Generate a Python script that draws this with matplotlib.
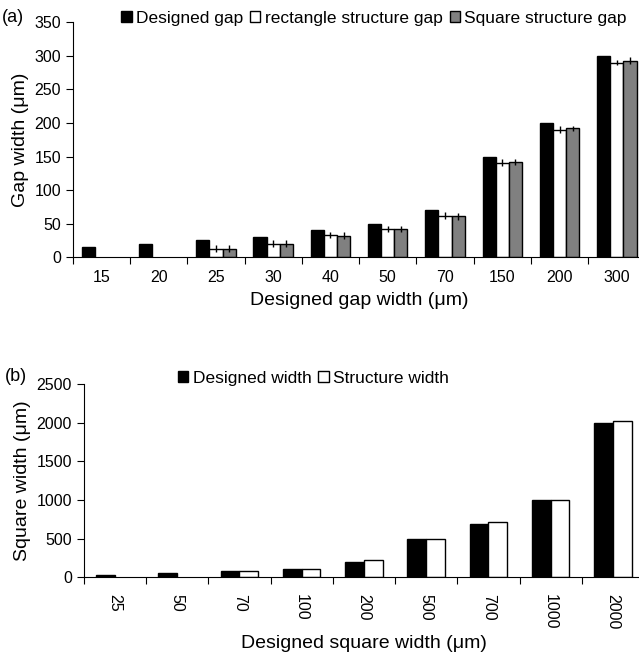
import numpy as np
import matplotlib
matplotlib.use("Agg")
import matplotlib.pyplot as plt
from matplotlib.patches import Patch

plt.rcParams['font.family'] = ['Liberation Sans', 'DejaVu Sans']

# panel (a)
gap_labels = ['15', '20', '25', '30', '40', '50', '70', '150', '200', '300']
designed_gap = [15, 20, 25, 30, 40, 50, 70, 150, 200, 300]
rect_gap = [np.nan, np.nan, 13, 20, 33, 42, 62, 141, 190, 290]
rect_err = [0, 0, 5, 5, 5, 5, 5, 5, 5, 4]
square_gap = [np.nan, np.nan, 13, 20, 32, 42, 61, 142, 192, 293]
square_err = [0, 0, 5, 5, 5, 5, 5, 4, 4, 5]

# panel (b)
sq_labels = ['25', '50', '70', '100', '200', '500', '700', '1000', '2000']
designed_width = [25, 50, 75, 100, 190, 500, 690, 1000, 2000]
structure_width = [np.nan, np.nan, 75, 100, 215, 500, 720, 1005, 2020]

fig = plt.figure(figsize=(6.39, 6.58), dpi=100)

# ---- (a)
ax1 = fig.add_axes([0.114, 0.609, 0.896, 0.357])
x = np.arange(len(gap_labels))
w = 0.23
ax1.bar(x - w, designed_gap, w, color='black', edgecolor='black', linewidth=1)
ax1.bar(x, rect_gap, w, color='white', edgecolor='black', linewidth=1,
        yerr=rect_err, error_kw=dict(ecolor='black', elinewidth=1, capsize=0))
ax1.bar(x + w, square_gap, w, color='#808080', edgecolor='black', linewidth=1,
        yerr=square_err, error_kw=dict(ecolor='black', elinewidth=1, capsize=0))
ax1.set_xlim(-0.5, len(gap_labels) - 0.5)
ax1.set_ylim(0, 350)
ax1.set_yticks(range(0, 351, 50))
ax1.set_xticks(np.arange(len(gap_labels) + 1) - 0.5)
ax1.set_xticklabels([])
ax1.set_xticks(x, minor=True)
ax1.set_xticklabels(gap_labels, minor=True)
ax1.tick_params(axis='x', which='minor', length=0, labelsize=11.5, pad=9)
ax1.tick_params(axis='x', which='major', length=5, direction='out')
ax1.tick_params(axis='y', labelsize=11.5, length=5)
for s in ['top', 'right']:
    ax1.spines[s].set_visible(False)
ax1.set_xlabel('Designed gap width (μm)', fontsize=14, labelpad=5)
ax1.set_ylabel('Gap width (μm)', fontsize=14)
h1 = [Patch(facecolor='black', edgecolor='black'),
      Patch(facecolor='white', edgecolor='black'),
      Patch(facecolor='#808080', edgecolor='black')]
ax1.legend(h1, ['Designed gap', 'rectangle structure gap', 'Square structure gap'],
           ncol=3, frameon=False, fontsize=12.5, handlelength=0.6, handleheight=0.6,
           handletextpad=0.25, columnspacing=0.4, loc='center', bbox_to_anchor=(0.526, 1.017))
fig.text(0.003, 0.973, '(a)', fontsize=13, va='center')

# ---- (b)
ax2 = fig.add_axes([0.131, 0.123, 0.877, 0.293])
x2 = np.arange(len(sq_labels))
w2 = 0.3
ax2.bar(x2 - w2 / 2, designed_width, w2, color='black', edgecolor='black', linewidth=1)
ax2.bar(x2 + w2 / 2, structure_width, w2, color='white', edgecolor='black', linewidth=1)
ax2.set_xlim(-0.5, len(sq_labels) - 0.5)
ax2.set_ylim(0, 2500)
ax2.set_yticks(range(0, 2501, 500))
ax2.set_xticks(np.arange(len(sq_labels) + 1) - 0.5)
ax2.set_xticklabels([])
ax2.set_xticks(x2, minor=True)
ax2.set_xticklabels(sq_labels, minor=True, rotation=270)
ax2.tick_params(axis='x', which='minor', length=0, labelsize=11.5, pad=12)
ax2.tick_params(axis='x', which='major', length=5, direction='out')
ax2.tick_params(axis='y', labelsize=11.5, length=5)
for s in ['top', 'right']:
    ax2.spines[s].set_visible(False)
ax2.set_xlabel('Designed square width (μm)', fontsize=14, labelpad=4)
ax2.set_ylabel('Square width (μm)', fontsize=14)
h2 = [Patch(facecolor='black', edgecolor='black'),
      Patch(facecolor='white', edgecolor='black')]
ax2.legend(h2, ['Designed width', 'Structure width'],
           ncol=2, frameon=False, fontsize=12.5, handlelength=0.6, handleheight=0.6,
           handletextpad=0.25, columnspacing=0.4, loc='center', bbox_to_anchor=(0.41, 1.03))
fig.text(0.008, 0.428, '(b)', fontsize=13, va='center')

fig.savefig('out.png', dpi=100)
